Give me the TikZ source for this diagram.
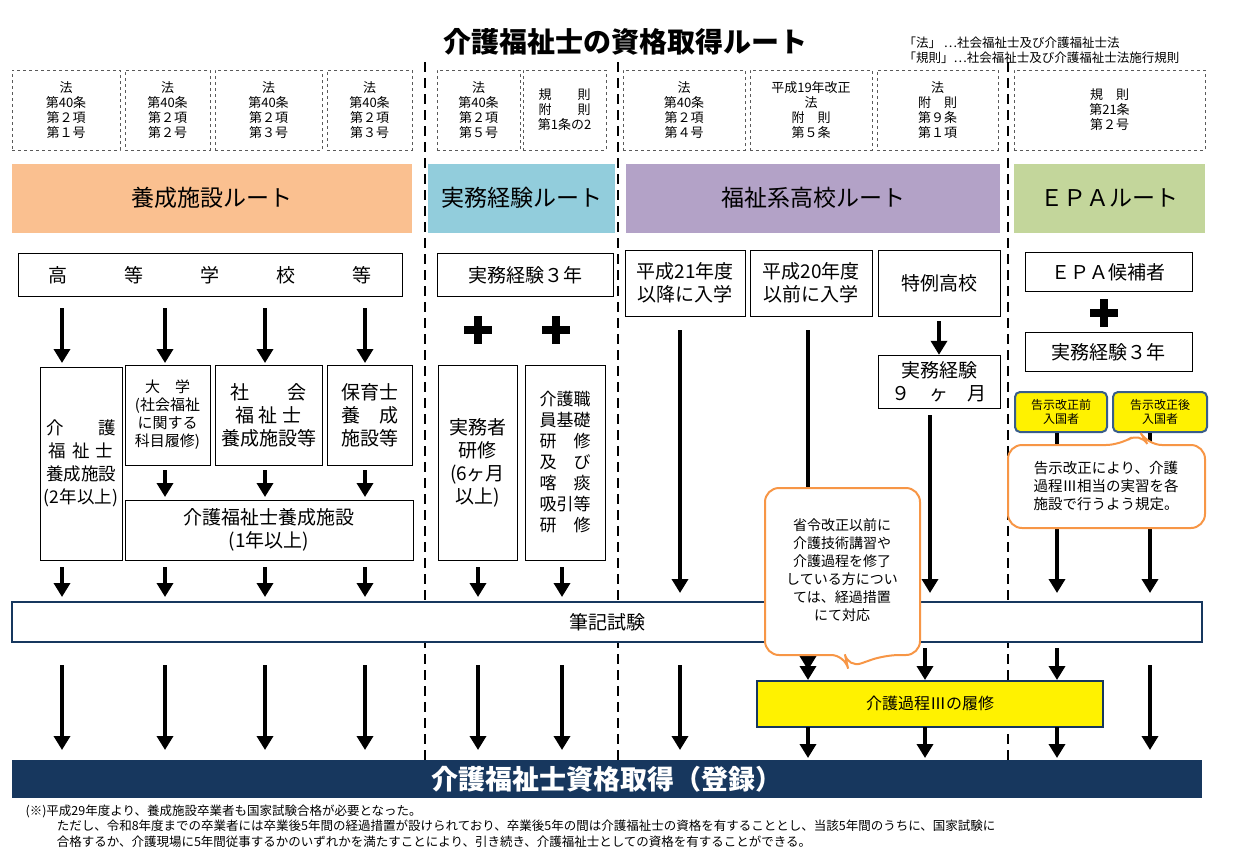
\documentclass[tikz,border=0pt]{standalone}
\usepackage{fontspec}
\setmainfont{Noto Sans CJK JP}
\usetikzlibrary{arrows.meta,positioning}
\definecolor{orng}{HTML}{FAC090}
\definecolor{skyb}{HTML}{92CDDC}
\definecolor{purp}{HTML}{B3A2C7}
\definecolor{lgrn}{HTML}{C3D69B}
\definecolor{navy}{HTML}{17375E}
\definecolor{bord}{HTML}{385D8A}
\definecolor{call}{HTML}{F79646}

\begin{document}
\begin{tikzpicture}[
x=1pt, y=-1pt,
tag/.style={draw, dashed, gray!70!black, text=black, font=\fontsize{13}{15}\selectfont,
            align=center, minimum height=80pt, inner sep=1pt},
route/.style={minimum height=69pt, font=\fontsize{23}{26}\selectfont},
box/.style={draw, fill=white, align=center, inner sep=1pt, font=\fontsize{19}{23}\selectfont},
ybox/.style={draw=bord, line width=2pt, fill=yellow, rounded corners=5pt, align=center,
             font=\fontsize{12}{14}\selectfont},
arr/.style={line width=4pt, -{Triangle[width=16pt,length=14pt]}},
callout/.style={draw=call, line width=2pt, fill=white, rounded corners=14pt},
sep/.style={dashed, line width=1.5pt, dash pattern=on 10pt off 6pt}
]
\useasboundingbox (0,0) rectangle (1235,865);

% title and legend
\node[font=\fontsize{28}{32}\selectfont\bfseries] (title) at (625,42) {介護福祉士の資格取得ルート};
\node[anchor=west, align=left, font=\fontsize{12.5}{15}\selectfont] (legend) at (900,50)
  {「法」 …社会福祉士及び介護福祉士法\\「規則」…社会福祉士及び介護福祉士法施行規則};

% column separators
\foreach \x in {425,618,1008} {
  \draw[sep] (\x,62) -- (\x,760);
}

% article tags
\foreach \x/\w/\t in {66/108/{法\\第40条\\第２項\\第１号}, 167.5/85/{法\\第40条\\第２項\\第２号},
    268.5/107/{法\\第40条\\第２項\\第３号}, 369.5/85/{法\\第40条\\第２項\\第３号},
    478.5/83/{法\\第40条\\第２項\\第５号}, 564.5/83/{規　　則\\附　　則\\第1条の2},
    684/122/{法\\第40条\\第２項\\第４号}, 811/122/{平成19年改正\\法\\附　則\\第５条},
    937.5/121/{法\\附　則\\第９条\\第１項}, 1109.5/191/{規　則\\第21条\\第２号}} {
  \node[tag, minimum width=\w pt] at (\x,110) {\t};
}

% route bars
\node[route, fill=orng, minimum width=400pt] (yosei) at (212,198) {養成施設ルート};
\node[route, fill=skyb, minimum width=187pt] (jitsumu) at (521.5,198) {実務経験ルート};
\node[route, fill=purp, minimum width=374pt] (fukushi) at (813,198) {福祉系高校ルート};
\node[route, fill=lgrn, minimum width=191pt] (epa) at (1109.5,198) {ＥＰＡルート};

% first row
\node[box, minimum width=384pt, minimum height=43pt] (koto) at (210,275) {高　　　等　　　学　　　校　　　等};
\node[box, minimum width=176pt, minimum height=43pt] (jk3) at (525,275) {実務経験３年};
\node[box, minimum width=120pt, minimum height=66pt] (h21) at (685,283) {平成21年度\\以降に入学};
\node[box, minimum width=122pt, minimum height=66pt] (h20) at (811,283) {平成20年度\\以前に入学};
\node[box, minimum width=122pt, minimum height=66pt] (tokurei) at (939,283) {特例高校};
\node[box, minimum width=167pt, minimum height=39pt] (epak) at (1108.5,272) {ＥＰＡ候補者};
\node[box, minimum width=167pt, minimum height=39pt] (epaj) at (1108.5,352) {実務経験３年};

% plus signs
\foreach \x/\y in {478/330, 556/330, 1104/313} {
  \fill (\x-4,\y-14) rectangle (\x+4,\y+14);
  \fill (\x-14,\y-4) rectangle (\x+14,\y+4);
}

% second row
\node[box, minimum width=82pt, text width=78pt, minimum height=193pt, font=\fontsize{17.5}{23}\selectfont] (k2) at (81,463.5) {介　　護\\福 祉 士\\養成施設\\(2年以上)};
\node[box, minimum width=85pt, minimum height=100pt, font=\fontsize{15}{18}\selectfont] (daigaku) at (167.5,415) {大　学\\(社会福祉\\に関する\\科目履修)};
\node[box, minimum width=107pt, minimum height=100pt] (shakai) at (268.5,415) {社　　会\\福 祉 士\\養成施設等};
\node[box, minimum width=85pt, minimum height=100pt] (hoiku) at (369.5,415) {保育士\\養　成\\施設等};
\node[box, minimum width=288pt, minimum height=60pt] (k1) at (269,530) {介護福祉士養成施設\\(1年以上)};
\node[box, minimum width=79pt, minimum height=195pt] (jitsukenshu) at (477.5,462.5) {実務者\\研修\\(6ヶ月\\以上)};
\node[box, minimum width=80pt, minimum height=195pt, font=\fontsize{17}{21}\selectfont] (kiso) at (565,462.5) {介護職\\員基礎\\研　修\\及　び\\喀　痰\\吸引等\\研　修};
\node[box, minimum width=122pt, minimum height=53pt] (j9) at (939,381.5) {実務経験\\９　ヶ　月};
\node[ybox, minimum width=92pt, minimum height=40pt] (mae) at (1061,412) {告示改正前\\入国者};
\node[ybox, minimum width=94pt, minimum height=40pt] (ato) at (1160,412) {告示改正後\\入国者};

% arrows upper part
\foreach \x in {62,165,265,365} {
  \draw[arr] (\x,308) -- (\x,363);
}
\foreach \x in {165,265,365} {
  \draw[arr] (\x,470) -- (\x,497);
}
\draw[arr] (tokurei.south) ++(0,5) -- (j9.north);
\draw[arr] (680,330) -- (680,593);
\draw[arr] (808,330) -- (808,670);
\draw[arr] (j9.south -| 930,0) ++(0,7) -- (930,593);
\draw[arr] (mae.south -| 1057,0) -- (1057,593);
\draw[arr] (ato.south -| 1150,0) -- (1150,593);
\foreach \x in {62,165,265,365,478,562} {
  \draw[arr] (\x,567) -- (\x,597);
}

% EPA note
\draw[callout] (1008,445) -- (1120,445) -- (1140,432) -- (1148,445) -- (1205,445) -- (1205,528)
  -- (1008,528) -- cycle;
\node[align=center, font=\fontsize{14.5}{18}\selectfont] (epanote) at (1106,486)
  {告示改正により、介護\\過程Ⅲ相当の実習を各\\施設で行うよう規定。};

% written exam
\node[draw=navy, line width=2pt, fill=white, minimum width=1190pt, minimum height=40pt,
      font=\fontsize{19}{22}\selectfont] (hikki) at (607,622) {筆記試験};

% arrows lower part
\foreach \x in {62,165,265,365,478,562,680,1150} {
  \draw[arr] (\x,665) -- (\x,750);
}
\node[draw=navy, line width=2pt, fill=yellow, minimum width=346pt, minimum height=46pt,
      font=\fontsize{16}{18}\selectfont] (katei) at (930,703.5) {介護過程Ⅲの履修};
\foreach \x in {808,925,1057} {
  \draw[arr] (\x,648) -- (\x,680);
  \draw[arr] (\x,727) -- (\x,758);
}

% transition note
\draw[callout] (765,488) -- (920,488) -- (920,655) -- (885,655) -- (848,668) -- (845,655)
  -- (765,655) -- cycle;
\node[align=center, font=\fontsize{14}{18}\selectfont] (keika) at (842,570)
  {省令改正以前に\\介護技術講習や\\介護過程を修了\\している方につい\\ては、経過措置\\にて対応};

% registration
\node[fill=navy, text=white, minimum width=1190pt, minimum height=38pt,
      font=\fontsize{27}{30}\selectfont\bfseries] (toroku) at (607,779) {介護福祉士資格取得（登録）};

% footnote
\node[anchor=north west, align=left, font=\fontsize{12.5}{15.5}\selectfont] (note) at (22,801)
  {(※)平成29年度より、養成施設卒業者も国家試験合格が必要となった。\\
   \hspace*{2.5em}ただし、令和8年度までの卒業者には卒業後5年間の経過措置が設けられており、卒業後5年の間は介護福祉士の資格を有することとし、当該5年間のうちに、国家試験に\\
   \hspace*{2.5em}合格するか、介護現場に5年間従事するかのいずれかを満たすことにより、引き続き、介護福祉士としての資格を有することができる。};
\end{tikzpicture}
\end{document}
